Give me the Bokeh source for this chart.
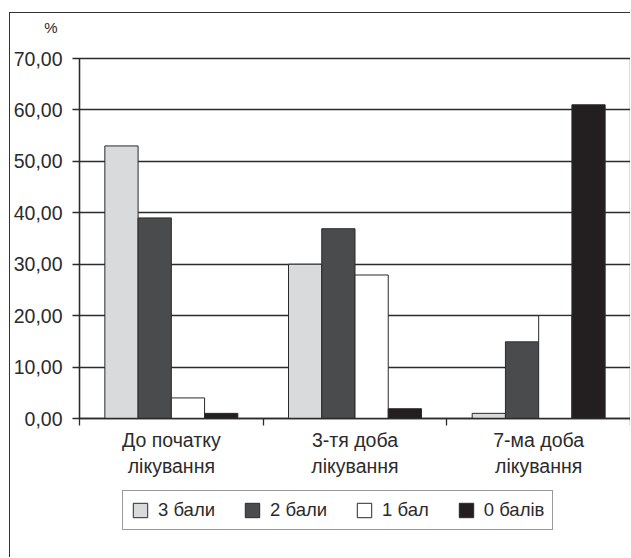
from bokeh.plotting import figure
from bokeh.layouts import column
from bokeh.models import (ColumnDataSource, Range1d, FixedTicker, Legend, LegendItem)
from bokeh.transform import dodge
from bokeh.embed import file_html
from bokeh.resources import INLINE

# Share of patients by score at each stage of treatment, %
stages = ["До початку\nлікування", "3-тя доба\nлікування", "7-ма доба\nлікування"]
score_names = ["3 бали", "2 бали", "1 бал", "0 балів"]
score3 = [53.0, 30.0, 1.0]
score2 = [39.0, 36.9, 14.9]
score1 = [4.0, 27.9, 20.0]
score0 = [1.0, 1.9, 61.0]
y_ticks = [0, 10, 20, 30, 40, 50, 60, 70]
y_tick_labels = ["0,00", "10,00", "20,00", "30,00", "40,00", "50,00", "60,00", "70,00"]
unit = "%"

series = [score3, score2, score1, score0]
fills = ["#d9dadc", "#4a4b4d", "#ffffff", "#231f20"]

FONT = "Liberation Sans"
INK = "#2b2b2b"
SIZE = "19.5px"
EDGE = "1px solid #333333"
W = 621

centers = [i + 0.5 for i in range(len(stages))]
bar_w = 0.181


def strip(height, margin, styles, y_axis=None):
    """Plain figure used as a header or footer band of the chart area."""
    f = figure(width=W, height=height, output_backend="svg", toolbar_location=None,
               x_range=Range1d(-2, -1), y_range=Range1d(0, 1),
               x_axis_location=None, y_axis_location=y_axis,
               min_border_left=0, min_border_right=0, min_border_top=0, min_border_bottom=0,
               margin=margin, styles=styles)
    f.grid.grid_line_color = None
    f.outline_line_color = None
    f.background_fill_color = "white"
    f.border_fill_color = "white"
    return f


def key_bars(f):
    """Bar renderers for the four scores, lying outside the band's view."""
    out = []
    for k, (vals, col) in enumerate(zip(series, fills)):
        src = ColumnDataSource(dict(x=centers, top=vals))
        out.append(f.vbar(x=dodge("x", (k - 1.5) * bar_w), top="top", width=bar_w, bottom=0,
                          source=src, fill_color=col, line_color="#2a2a2a", line_width=1))
    return out


# header band: a single tick label on its value axis shows the unit sign
top = strip(27, (12, 0, 0, 9), {"border-left": EDGE, "border-top": EDGE}, y_axis="left")
key_bars(top)
top.yaxis.ticker = FixedTicker(ticks=[0.5], minor_ticks=[])
top.yaxis.major_label_overrides = {0.5: unit}
top.yaxis.axis_line_color = None
top.yaxis.major_tick_line_color = None
top.yaxis.minor_tick_line_color = None
top.yaxis.major_tick_out = 0
top.yaxis.major_tick_in = 0
top.yaxis.minor_tick_out = 0
top.yaxis.major_label_standoff = 22
top.yaxis.major_label_text_font = FONT
top.yaxis.major_label_text_font_size = "15px"
top.yaxis.major_label_text_color = INK

# main chart
p = figure(width=W, height=440, output_backend="svg", toolbar_location=None,
           x_range=Range1d(0, len(stages)), y_range=Range1d(0, 70),
           min_border_left=69, min_border_right=1, min_border_top=19,
           min_border_bottom=61, margin=(0, 0, 0, 9),
           styles={"border-left": EDGE})
p.background_fill_color = "white"
p.border_fill_color = "white"
p.outline_line_color = INK
p.outline_line_width = 1.3

# bars, four per stage
key_bars(p)

# y axis
p.yaxis.ticker = FixedTicker(ticks=y_ticks)
p.yaxis.major_label_overrides = {t: s for t, s in zip(y_ticks, y_tick_labels)}
p.yaxis.major_tick_out = 7
p.yaxis.major_tick_in = 0
p.yaxis.minor_tick_out = 0
p.yaxis.major_label_standoff = 10
p.yaxis.axis_line_color = INK
p.yaxis.axis_line_width = 1.3
p.yaxis.major_tick_line_color = INK
p.yaxis.major_tick_line_width = 1.3
p.yaxis.major_label_text_font = FONT
p.yaxis.major_label_text_font_size = SIZE
p.yaxis.major_label_text_color = INK

# x axis: labels at stage centres, ticks on stage boundaries
p.xaxis.ticker = FixedTicker(ticks=centers, minor_ticks=list(range(len(stages) + 1)))
p.xaxis.major_label_overrides = {c: s for c, s in zip(centers, stages)}
p.xaxis.major_tick_out = 0
p.xaxis.major_tick_in = 0
p.xaxis.minor_tick_out = 7
p.xaxis.minor_tick_in = 0
p.xaxis.minor_tick_line_color = INK
p.xaxis.minor_tick_line_width = 1.3
p.xaxis.axis_line_color = INK
p.xaxis.axis_line_width = 1.3
p.xaxis.major_label_standoff = 3
p.xaxis.major_label_text_font = FONT
p.xaxis.major_label_text_font_size = SIZE
p.xaxis.major_label_text_color = INK

p.xgrid.grid_line_color = None
p.ygrid.ticker = FixedTicker(ticks=y_ticks)
p.ygrid.grid_line_color = INK
p.ygrid.grid_line_width = 1.3

# footer band holding the legend
bottom = strip(78, (0, 0, 0, 9), {"border-left": EDGE})
keys = [LegendItem(label=name, renderers=[r])
        for name, r in zip(score_names, key_bars(bottom))]

legend = Legend(items=keys, orientation="horizontal", location=(43, 27),
                glyph_width=18, glyph_height=18, label_standoff=9, spacing=28,
                padding=8, margin=0,
                label_text_font=FONT, label_text_font_size="18.5px", label_text_color=INK,
                border_line_color="#333333", border_line_width=1.5,
                background_fill_color="white", background_fill_alpha=1)
bottom.add_layout(legend, "center")

layout = column(top, p, bottom, spacing=0)
open("out.html", "w").write(file_html(layout, INLINE))
